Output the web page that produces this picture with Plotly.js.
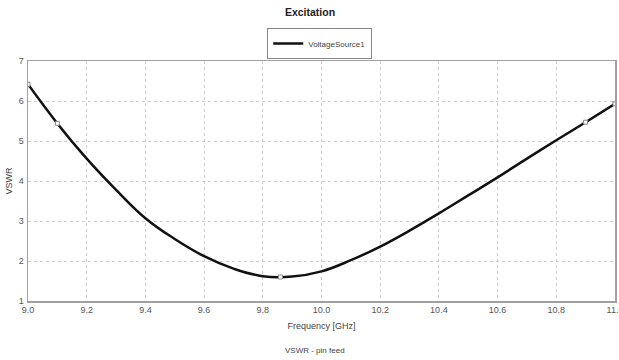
<!DOCTYPE html>
<html>
<head>
<meta charset="utf-8">
<script src="https://cdn.plot.ly/plotly-3.0.1.min.js"></script>
<style>html,body{margin:0;padding:0;background:#fff;}#chart{width:619px;height:360px;}</style>
</head>
<body>
<div id="chart"></div>
<script>
const freq = [9.0, 9.1, 9.2, 9.3, 9.4, 9.5, 9.6, 9.7, 9.8, 9.9, 10.0, 10.1, 10.2, 10.3, 10.4, 10.5, 10.6, 10.7, 10.8, 10.9, 11.0];
const vswr = [6.42, 5.44, 4.56, 3.78, 3.07, 2.55, 2.12, 1.81, 1.62, 1.61, 1.74, 2.02, 2.36, 2.76, 3.19, 3.64, 4.09, 4.56, 5.02, 5.47, 5.93];
const markerFreq = [9.0, 9.1, 9.86, 10.9, 11.0];
const markerVswr = [6.42, 5.44, 1.60, 5.47, 5.93];
const seriesName = "VoltageSource1";
const xTicks = [9.0, 9.2, 9.4, 9.6, 9.8, 10.0, 10.2, 10.4, 10.6, 10.8, 11.0];
const yTicks = [1, 2, 3, 4, 5, 6, 7];

const font = "Liberation Sans, Arial, sans-serif";

const traces = [
  {x: freq, y: vswr, type: 'scatter', mode: 'lines', name: seriesName,
   line: {color: '#111', width: 2.5, shape: 'spline', smoothing: 1.2}},
  {x: markerFreq, y: markerVswr, type: 'scatter', mode: 'markers', showlegend: false,
   marker: {symbol: 'square', size: 4, color: '#fff', line: {color: '#888', width: 1}}}
];

const axisCommon = {
  showline: true, mirror: true, linecolor: '#a0a0a0', linewidth: 1.5,
  showgrid: true, gridcolor: '#cfcfcf', griddash: 'dot', gridwidth: 1,
  zeroline: false, ticks: '', ticklabeloverflow: 'allow',
  tickfont: {family: font, size: 9, color: '#555'}
};

const layout = {
  width: 619, height: 360,
  margin: {l: 28, r: 4, t: 61, b: 59},
  paper_bgcolor: '#fff', plot_bgcolor: '#fff',
  title: {text: 'Excitation', font: {family: font, size: 10.5, color: '#222', weight: 'bold'},
          x: 310/619, xanchor: 'center', y: 1 - 12/360, yanchor: 'middle'},
  showlegend: true,
  legend: {x: 0.497, xanchor: 'center', y: 1 + 33/240, yanchor: 'top',
           bordercolor: '#888', borderwidth: 1, bgcolor: '#fff',
           font: {family: font, size: 8, color: '#444'}},
  xaxis: Object.assign({}, axisCommon, {
    range: [9.0, 11.0001], tickvals: xTicks, tickformat: '.1f',
    title: {text: 'Frequency [GHz]', font: {family: font, size: 9, color: '#444'}, standoff: 8}
  }),
  yaxis: Object.assign({}, axisCommon, {
    range: [1, 7.0001], tickvals: yTicks, ticklabelstandoff: 1,
    title: {text: 'VSWR', font: {family: font, size: 9, color: '#444'}, standoff: 4}
  }),
  annotations: [{
    text: 'VSWR - pin feed', xref: 'paper', yref: 'paper', x: (315-28)/587, y: -(350-301)/240,
    xanchor: 'center', yanchor: 'middle', showarrow: false,
    font: {family: font, size: 8, color: '#444'}
  }]
};

Plotly.newPlot('chart', traces, layout, {displayModeBar: false, staticPlot: true});
</script>
</body>
</html>
